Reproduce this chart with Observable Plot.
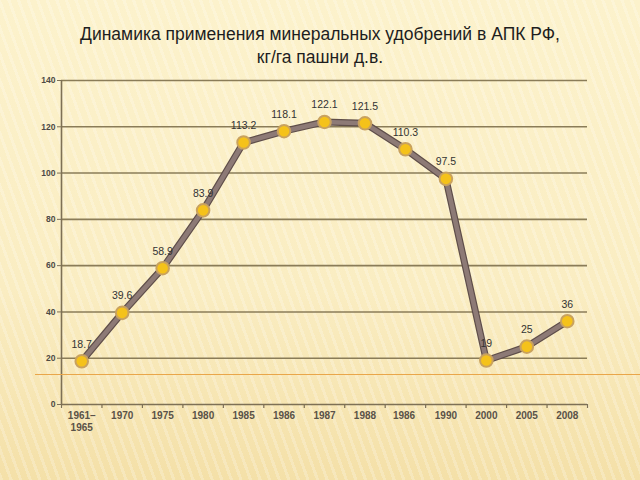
<!DOCTYPE html>
<html>
<head>
<meta charset="utf-8">
<script src="https://cdn.jsdelivr.net/npm/d3@7"></script>
<script src="https://cdn.jsdelivr.net/npm/@observablehq/plot@0.6"></script>
<style>
  html, body { margin: 0; padding: 0; }
  body {
    width: 640px; height: 480px; overflow: hidden; position: relative;
    font-family: "Liberation Sans", Arial, sans-serif;
    background:
      repeating-linear-gradient(70deg, rgba(255,255,255,0.22) 0 3px, rgba(255,255,255,0) 3px 9px),
      linear-gradient(180deg, #fcf2cc 0%, #faedc2 60%, #f4e0a8 100%);
  }
  #title {
    box-sizing: border-box; height: 72px; padding-top: 23px;
    text-align: center; font-size: 17.5px; line-height: 23px; color: #1e1e1e;
  }
  #deco {
    position: absolute; left: 35px; right: 0; top: 374px; height: 1px;
    background: #e9a64a;
  }
  #chart svg { display: block; }
</style>
</head>
<body>
<div id="title">Динамика применения минеральных удобрений в АПК РФ,<br>кг/га пашни д.в.</div>
<div id="chart"></div>
<div id="deco"></div>
<script>
const categories = ["1961–\n1965", "1970", "1975", "1980", "1985", "1986", "1987", "1988", "1986 ", "1990", "2000", "2005", "2008"];
const values = [18.7, 39.6, 58.9, 83.9, 113.2, 118.1, 122.1, 121.5, 110.3, 97.5, 19, 25, 36];
const labels = ["18.7", "39.6", "58.9", "83.9", "113.2", "118.1", "122.1", "121.5", "110.3", "97.5", "19", "25", "36"];
const yTicks = [0, 20, 40, 60, 80, 100, 120, 140];

const data = categories.map((c, i) => ({cat: c, value: values[i], label: labels[i]}));

const W = 640, H = 408;
const mL = 61, mR = 53, mT = 8, mB = 76;
const step = (W - mL - mR) / categories.length;

const chart = Plot.plot({
  width: W, height: H,
  marginLeft: mL, marginRight: mR, marginTop: mT, marginBottom: mB,
  style: {background: "transparent", fontFamily: "Liberation Sans, Arial, sans-serif"},
  x: {type: "point", domain: categories, padding: 0.5, round: false, label: null},
  y: {domain: [0, 140], ticks: yTicks, label: null},
  marks: [
    Plot.ruleY(yTicks.filter(d => d > 0), {stroke: "#8a7c58", strokeWidth: 1.6}),
    Plot.ruleY([0], {stroke: "#7d7055", strokeWidth: 1.6}),
    Plot.ruleX([categories[0]], {dx: -step / 2, y1: 0, y2: 140, stroke: "#7d7055", strokeWidth: 1.6}),
    Plot.ruleX(categories, {x: d => d, dx: -step / 2, y1: 0, y2: 0, insetBottom: -4, stroke: "#7d7055", strokeWidth: 1.2}),
    Plot.ruleX([categories[categories.length - 1]], {x: d => d, dx: step / 2, y1: 0, y2: 0, insetBottom: -4, stroke: "#7d7055", strokeWidth: 1.2}),
    Plot.axisY({ticks: yTicks, tickSize: 4, tickPadding: 2, fontSize: 8.5, fontWeight: "bold", fill: "#4d4a45", stroke: "#7d7055"}),
    Plot.axisX({tickSize: 0, tickPadding: 6, fontSize: 10, fontWeight: "bold", fill: "#5a5248", lineHeight: 1.2}),
    Plot.line(data, {x: "cat", y: "value", stroke: "#5f4e4a", strokeWidth: 7, strokeLinejoin: "round"}),
    Plot.line(data, {x: "cat", y: "value", stroke: "#8d7a76", strokeWidth: 4.6, strokeLinejoin: "round"}),
    Plot.dot(data, {x: "cat", y: "value", r: 6.3, fill: "#f5c21a", stroke: "#c9a25e", strokeWidth: 2}),
    Plot.text(data, {x: "cat", y: "value", text: "label", dy: -17, fontSize: 10.5, fill: "#333"})
  ]
});
document.getElementById("chart").appendChild(chart);
</script>
</body>
</html>
